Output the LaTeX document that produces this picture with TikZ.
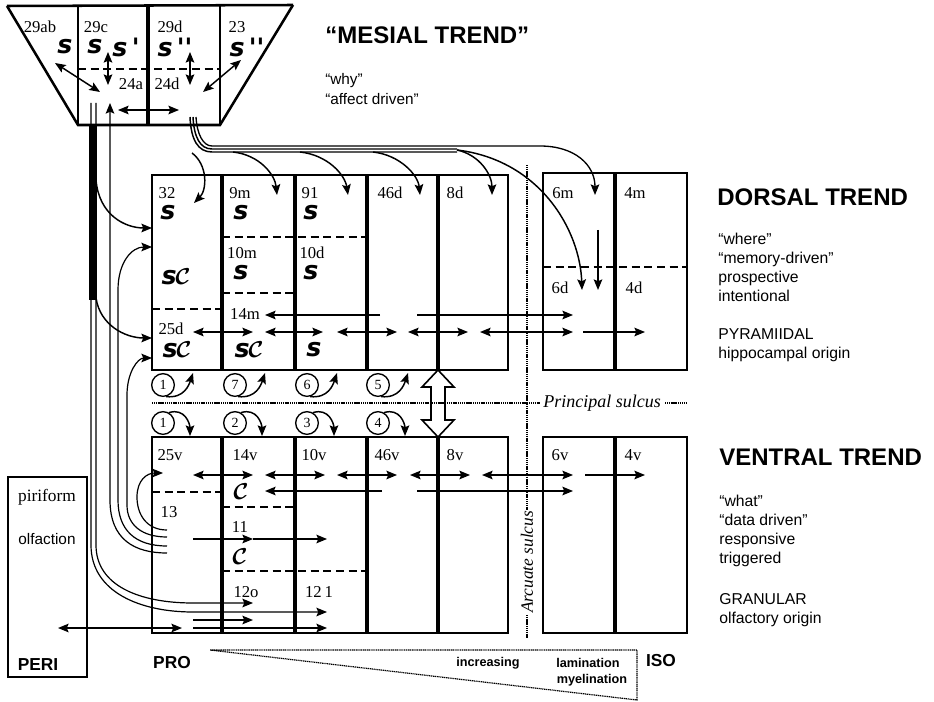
\documentclass[tikz,border=0pt]{standalone}
\usepackage{amsmath}
\usepackage{fontspec}
\setmainfont{Liberation Serif}
\setsansfont{Liberation Sans}
\newfontfamily\scrf{DejaVu Sans}
\usetikzlibrary{arrows.meta}
\newcommand{\Sg}{{\scrf\bfseries\itshape s}}
\newcommand{\Cg}{$\boldsymbol{\mathcal{C}}$}
\newcommand{\SCg}{\Sg\hspace{-1pt}{\fontsize{16}{18}\selectfont\Cg}}
\begin{document}
\begin{tikzpicture}[x=0.75pt,y=-0.75pt,
  lbl/.style={font=\fontsize{12.5}{14}\selectfont, inner sep=0},
  scr/.style={font=\fontsize{19}{20}\selectfont, inner sep=0},
  scc/.style={font=\fontsize{16}{18}\selectfont, inner sep=0},
  sl/.style={font=\sffamily\fontsize{11.8}{14.25}\selectfont, inner sep=0, align=left, anchor=north west},
  big/.style={font=\sffamily\bfseries\fontsize{18}{20}\selectfont, inner sep=0, anchor=base west},
  bsl/.style={font=\sffamily\bfseries\fontsize{13}{15}\selectfont, inner sep=0},
  wsl/.style={font=\sffamily\bfseries\fontsize{9.5}{12}\selectfont, inner sep=0},
  ar/.style={-{Stealth[length=8pt,width=6.5pt,inset=1.5pt]}, line width=1.1pt},
  dar/.style={{Stealth[length=8pt,width=6.5pt,inset=1.5pt]}-{Stealth[length=8pt,width=6.5pt,inset=1.5pt]}, line width=1.1pt},
  fib/.style={line width=0.9pt},
  box/.style={line width=1.9pt},
  div/.style={line width=2.8pt},
  dsh/.style={line width=1pt, dash pattern=on 6pt off 3.5pt},
  dots/.style={line width=0.9pt, dash pattern=on 0.9pt off 0.5pt},
  circ/.style={draw, circle, line width=1pt, minimum size=17pt, inner sep=0, font=\fontsize{10.5}{12}\selectfont}
]
\useasboundingbox (0,0) rectangle (934,702);

% ---------- top trapezoid ----------
\draw[box, line join=miter] (7,6) -- (78,125) -- (220,125) -- (293,5);
\draw[box] (7,6) -- (293,5);
\draw[box] (78,6) -- (78,125);
\draw[div] (148,6) -- (148,125);
\draw[box] (220,6) -- (220,125);
\draw[dsh] (78,69) -- (220,69);

\node[lbl] (t29ab) at (40,27) {29ab};
\node[lbl] (t29c) at (96,27) {29c};
\node[lbl] (t29d) at (170,27) {29d};
\node[lbl] (t23) at (237,27) {23};
\node[scr] (s1) at (65,47) {\Sg};
\node[scr] (s2) at (95,47) {\Sg};
\node[scr] (s3) at (126,47) {\Sg\,\scrf\bfseries'};
\node[scr] (s4) at (175,47) {\Sg\,\scrf\bfseries''};
\node[scr] (s5) at (247,47) {\Sg\,\scrf\bfseries''};
\node[lbl] (t24a) at (131,84) {24a};
\node[lbl] (t24d) at (167,84) {24d};

\draw[dar] (55,63) -- (100,92);
\draw[dar] (108,52) -- (108,85);
\draw[dar] (190,52) -- (190,85);
\draw[dar] (241,60) -- (203,92);
\draw[dar] (118,110) -- (179,110);

% ---------- dorsal block ----------
\draw[box] (152,175) rectangle (508,370);
\foreach \x in {222,295,367,438} \draw[div] (\x,175) -- (\x,370);
\draw[box] (543,173) rectangle (687,370);
\draw[div] (615,173) -- (615,370);
\draw[dsh] (152,309) -- (222,309);
\draw[dsh] (222,237) -- (367,237);
\draw[dsh] (222,293) -- (295,293);
\draw[dsh] (543,267) -- (687,267);

\node[lbl] (d32) at (167,193) {32};
\node[lbl] (d9m) at (240,193) {9m};
\node[lbl] (d9l) at (310,193) {91};
\node[lbl] (d46) at (390,193) {46d};
\node[lbl] (d8) at (455,193) {8d};
\node[lbl] (d10m) at (242,253) {10m};
\node[lbl] (d10d) at (312,253) {10d};
\node[lbl] (d14m) at (245,314) {14m};
\node[lbl] (d25) at (171,329) {25d};
\node[lbl] (d6m) at (563,193) {6m};
\node[lbl] (d4m) at (635,193) {4m};
\node[lbl] (d6d) at (560,288) {6d};
\node[lbl] (d4d) at (634,288) {4d};

\node[scr] (ds1) at (168,213) {\Sg};
\node[scr] (ds2) at (241,213) {\Sg};
\node[scr] (ds3) at (311,213) {\Sg};
\node[scr] (ds4) at (241,273) {\Sg};
\node[scr] (ds5) at (311,273) {\Sg};
\node[scr] (ds6) at (176,277) {\SCg};
\node[scr] (ds7) at (177,350) {\SCg};
\node[scr] (ds8) at (249,350) {\SCg};
\node[scr] (ds9) at (314,350) {\Sg};

% dorsal horizontal arrows
\draw[ar] (380,315) -- (265,315);
\draw[ar] (417,315) -- (573,315);
\draw[dar] (193,332) -- (253,332);
\draw[dar] (265,332) -- (323,332);
\draw[dar] (337,332) -- (397,332);
\draw[dar] (408,332) -- (468,332);
\draw[dar] (480,332) -- (573,332);
\draw[ar] (583,332) -- (645,332);
\draw[ar] (598,230) -- (598,290);

% ---------- ventral block ----------
\draw[box] (152,437) rectangle (508,633);
\foreach \x in {222,295,367,438} \draw[div] (\x,437) -- (\x,633);
\draw[box] (543,437) rectangle (687,633);
\draw[div] (615,437) -- (615,633);
\draw[dsh] (152,492) -- (222,492);
\draw[dsh] (222,507) -- (295,507);
\draw[dsh] (222,571) -- (367,571);

\node[lbl] (v25) at (170,455) {25v};
\node[lbl] (v14) at (245,455) {14v};
\node[lbl] (v10) at (314,455) {10v};
\node[lbl] (v46) at (387,455) {46v};
\node[lbl] (v8) at (455,455) {8v};
\node[lbl] (v6) at (560,455) {6v};
\node[lbl] (v4) at (633,455) {4v};
\node[lbl] (v13) at (169,512) {13};
\node[lbl] (v11) at (240,527) {11};
\node[lbl] (v12o) at (246,592) {12o};
\node[lbl] (v12l) at (319,592) {12\,1};
\node[scc] (vc1) at (241,492) {\Cg};
\node[scc] (vc2) at (240,557) {\Cg};

\draw[dar] (193,475) -- (253,475);
\draw[dar] (265,475) -- (325,475);
\draw[dar] (337,475) -- (397,475);
\draw[dar] (410,475) -- (470,475);
\draw[dar] (482,475) -- (573,475);
\draw[ar] (585,475) -- (645,475);
\draw[ar] (382,491) -- (265,491);
\draw[ar] (417,491) -- (573,491);
\draw[ar] (193,539) -- (253,539);
\draw[ar] (253,539) -- (327,539);
\draw[ar] (193,620) -- (253,620);
\draw[ar] (193,628) -- (327,628);

% ---------- piriform ----------
\draw[box] (8,477) rectangle (87,677);
\node[font=\fontsize{13}{15}\selectfont, inner sep=0] (pir) at (47,497) {piriform};
\node[font=\sffamily\fontsize{11.5}{14}\selectfont, inner sep=0] (olf) at (47,539) {olfaction};
\node[bsl] (peri) at (38,665) {PERI};
\draw[dar] (58,628) -- (182,628);

% ---------- fibres from top ----------
\draw[fib, line width=1.1pt] (190,117) .. controls (191,140) and (198,152) .. (212,152) -- (457,152);
\draw[fib, line width=1.1pt] (193,117) .. controls (194,137) and (200,149) .. (212,149) -- (457,149);
\draw[ar, line width=1pt] (196,117) .. controls (197,134) and (203,146) .. (212,146) -- (540,146) .. controls (575,146) and (595,165) .. (595,195);
\draw[ar] (192,153) .. controls (208,165) and (207,190) .. (194,203);
\draw[ar] (233,152) .. controls (260,155) and (275,175) .. (277,195);
\draw[ar] (300,152) .. controls (328,155) and (345,175) .. (348,195);
\draw[ar] (373,152) .. controls (400,155) and (418,175) .. (420,195);
\draw[ar] (457,150) .. controls (480,155) and (492,175) .. (492,195);
\draw[ar] (457,150) .. controls (540,160) and (580,230) .. (582,290);

% ---------- left fibre bundles ----------
\fill (89,125) rectangle (97,300);
\draw[ar, line width=0.9pt] (91,103) -- (91,545) .. controls (91,592) and (140,612) .. (193,612) -- (327,612);
\draw[ar, line width=0.9pt] (96,103) -- (96,545) .. controls (96,586) and (140,603) .. (193,603) -- (253,603);
\draw[ar] (96,180) .. controls (99,215) and (125,228) .. (152,228);
\draw[ar] (96,298) .. controls (100,325) and (125,338) .. (152,338);
\draw[{Stealth[length=8pt,width=6.5pt,inset=1.5pt]}-, line width=0.9pt] (110,103) -- (110,500) .. controls (110,540) and (135,553) .. (167,553);
\draw[ar, line width=0.9pt] (167,546) .. controls (135,546) and (118,530) .. (118,500) -- (118,290) .. controls (118,262) and (132,247) .. (152,247);
\draw[ar, line width=0.9pt] (167,537) .. controls (142,537) and (127,525) .. (127,505) -- (127,395) .. controls (127,372) and (138,358) .. (152,358);
\draw[ar, line width=0.9pt] (167,530) .. controls (147,530) and (137,515) .. (137,497) .. controls (137,480) and (147,473) .. (163,473);

% ---------- circles ----------
\foreach \n/\x/\t in {1/163/1,2/235/7,3/307/6,4/378/5}{
  \node[circ] (dc\n) at (\x,385) {\t};
  \draw[ar] (dc\n.-75) .. controls +(18,2) and +(-4,12) .. (\x+30,373);
}
\foreach \n/\x/\t in {1/163/1,2/235/2,3/307/3,4/378/4}{
  \node[circ] (vc\n) at (\x,423) {\t};
  \draw[ar] (vc\n.60) .. controls +(16,-5) and +(0,-12) .. (\x+27,436);
}

% ---------- hollow double arrow ----------
\draw[line width=1.2pt, fill=white, line join=miter] (438,370) -- (454,387) -- (445,387) -- (445,420) -- (454,420) -- (438,437) -- (422,420) -- (431,420) -- (431,387) -- (422,387) -- cycle;

% ---------- sulci ----------
\draw[dots] (152,403) -- (540,403);
\draw[dots] (665,403) -- (687,403);
\node[font=\itshape\fontsize{13.5}{15}\selectfont, inner sep=0, anchor=west] (ps) at (543,403) {Principal sulcus};
\draw[dots] (527,165) -- (527,638);
\node[font=\itshape\fontsize{13}{15}\selectfont, inner sep=1pt, fill=white, rotate=90] (as) at (527,562) {Arcuate sulcus};

% ---------- wedge ----------
\draw[dots] (210,650) -- (637,650) -- (637,700) -- cycle;
\node[wsl] (inc) at (488,663) {increasing};
\node[wsl] (lam) at (588,663) {lamination};
\node[wsl] (mye) at (592,680) {myelination};
\node[bsl] (iso) at (661,661) {ISO};
\node[bsl] (pro) at (172,663) {PRO};

% ---------- right texts ----------
\node[big] (mt) at (325,44) {“MESIAL TREND”};
\node[sl, font=\sffamily\fontsize{11.5}{15}\selectfont] (mtx) at (325,73) {“why”\\“affect driven”};
\node[big] (dt) at (717,205) {DORSAL TREND};
\node[sl] (dtx) at (718,233) {“where”\\“memory-driven”\\prospective\\intentional\\[14pt]PYRAMIIDAL\\hippocampal origin};
\node[big] (vt) at (719,465) {VENTRAL TREND};
\node[sl] (vtx) at (719,495) {“what”\\“data driven”\\responsive\\triggered\\[16pt]GRANULAR\\olfactory origin};
\end{tikzpicture}
\end{document}
